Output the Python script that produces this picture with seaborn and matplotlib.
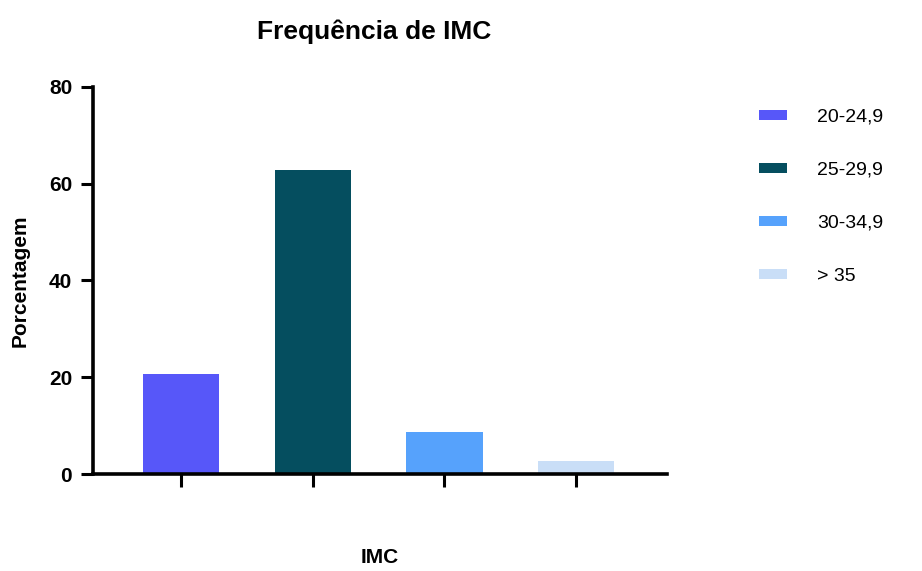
import matplotlib
matplotlib.use("Agg")
import matplotlib.pyplot as plt
import seaborn as sns
import pandas as pd

categories = ["20-24,9", "25-29,9", "30-34,9", "> 35"]
values = [20.7, 62.7, 8.7, 2.8]
colors = ["#5757F9", "#054E5F", "#56A2FC", "#C9DEF7"]
yticks = [0, 20, 40, 60, 80]

sns.set_theme(style="white")
plt.rcParams['font.family'] = ['Liberation Sans', 'DejaVu Sans']
plt.rcParams['text.color'] = 'black'
plt.rcParams['axes.labelcolor'] = 'black'
plt.rcParams['xtick.color'] = 'black'
plt.rcParams['ytick.color'] = 'black'

df = pd.DataFrame({"IMC": categories, "Porcentagem": values})

fig = plt.figure(figsize=(9.22, 5.71), dpi=100)
ax = fig.add_axes([0.1009, 0.1694, 0.6225, 0.6788])

sns.barplot(data=df, x="IMC", y="Porcentagem", hue="IMC", palette=colors,
            width=0.58, ax=ax, legend=True, saturation=1, linewidth=0)

ax.set_xlim(-0.668, 3.69)
ax.set_ylim(0, 80)
ax.set_yticks(yticks)
ax.set_yticklabels([str(t) for t in yticks], fontsize=15, fontweight="bold", color="black")
ax.tick_params(axis="x", labelbottom=False, length=9, width=2.2, color="black", direction="out", bottom=True)
ax.tick_params(axis="y", length=9, width=2.2, color="black", direction="out", left=True, pad=6)

for s in ["top", "right"]:
    ax.spines[s].set_visible(False)
for s in ["left", "bottom"]:
    ax.spines[s].set_linewidth(2.6)
    ax.spines[s].set_color("black")

ax.set_xlabel("IMC", fontsize=15, fontweight="bold", color="black")
ax.xaxis.set_label_coords(0.5, -0.19)
ax.set_ylabel("Porcentagem", fontsize=15, fontweight="bold", labelpad=14, color="black")
ax.set_title("Frequência de IMC", fontsize=19, fontweight="bold", pad=34, x=0.49, color="black")

leg = ax.legend(loc="upper left", bbox_to_anchor=(1.146, 0.963), frameon=False,
                fontsize=14, handlelength=1.45, handleheight=0.4,
                labelspacing=1.85, handletextpad=1.55, borderaxespad=0)
for t in leg.get_texts():
    t.set_color("black")

fig.savefig("out.png", dpi=100)
